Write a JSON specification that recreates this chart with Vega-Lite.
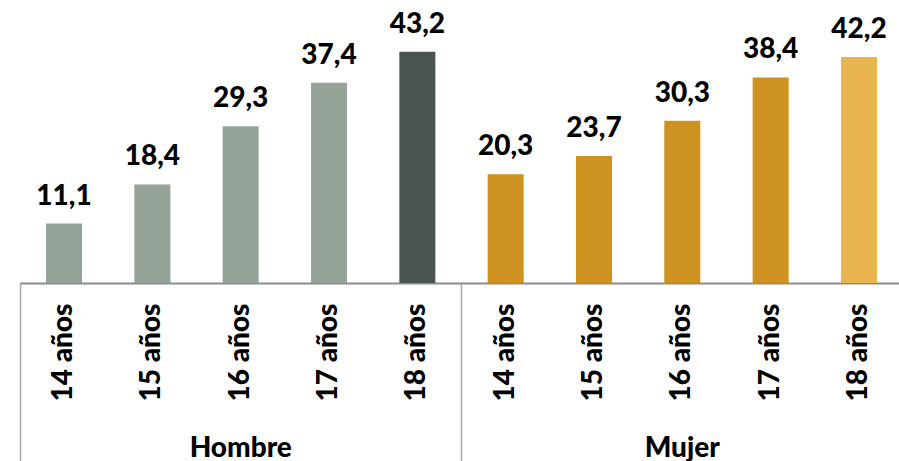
{
  "$schema": "https://vega.github.io/schema/vega-lite/v6.json",
  "width": 879,
  "height": 283,
  "autosize": {"type": "none"},
  "padding": {"left": 20, "top": 0, "right": 0, "bottom": 178},
  "config": {
    "view": {"stroke": null},
    "font": "Lato",
    "locale": {"number": {"decimal": ",", "thousands": ".", "grouping": [3], "currency": ["", " €"]}}
  },
  "data": {
    "values": [
      {"sexo": "Hombre", "edad": "14 años", "id": "Hombre 14 años", "valor": 11.1},
      {"sexo": "Hombre", "edad": "15 años", "id": "Hombre 15 años", "valor": 18.4},
      {"sexo": "Hombre", "edad": "16 años", "id": "Hombre 16 años", "valor": 29.3},
      {"sexo": "Hombre", "edad": "17 años", "id": "Hombre 17 años", "valor": 37.4},
      {"sexo": "Hombre", "edad": "18 años", "id": "Hombre 18 años", "valor": 43.2},
      {"sexo": "Mujer", "edad": "14 años", "id": "Mujer 14 años", "valor": 20.3},
      {"sexo": "Mujer", "edad": "15 años", "id": "Mujer 15 años", "valor": 23.7},
      {"sexo": "Mujer", "edad": "16 años", "id": "Mujer 16 años", "valor": 30.3},
      {"sexo": "Mujer", "edad": "17 años", "id": "Mujer 17 años", "valor": 38.4},
      {"sexo": "Mujer", "edad": "18 años", "id": "Mujer 18 años", "valor": 42.2}
    ]
  },
  "layer": [
    {
      "encoding": {
        "x": {
          "field": "id",
          "type": "nominal",
          "sort": null,
          "scale": {"range": [0, 883], "paddingInner": 0.5923, "paddingOuter": 0.2945},
          "axis": {
            "orient": "bottom",
            "title": null,
            "labelExpr": "slice(datum.label, -7)",
            "labelAngle": -90,
            "labelAlign": "right",
            "labelBaseline": "middle",
            "ticks": false,
            "tickSize": 0,
            "labelPadding": 20,
            "labelFont": "Lato",
            "labelFontWeight": 900,
            "labelFontSize": 28,
            "labelColor": "#000000",
            "labelOverlap": false,
            "labelLimit": 0,
            "domainColor": "#8c8c8c",
            "domainWidth": 2,
            "grid": false
          }
        },
        "y": {
          "field": "valor",
          "type": "quantitative",
          "scale": {"domain": [0, 52.86], "nice": false},
          "axis": null
        }
      },
      "layer": [
        {
          "mark": {"type": "bar"},
          "encoding": {
            "color": {
              "field": "id",
              "type": "nominal",
              "scale": {
                "domain": ["Hombre 14 años", "Hombre 15 años", "Hombre 16 años", "Hombre 17 años", "Hombre 18 años", "Mujer 14 años", "Mujer 15 años", "Mujer 16 años", "Mujer 17 años", "Mujer 18 años"],
                "range": ["#95a398", "#95a398", "#95a398", "#95a398", "#4a534d", "#cd9220", "#cd9220", "#cd9220", "#cd9220", "#e9b54e"]
              },
              "legend": null
            }
          }
        },
        {
          "mark": {"type": "text", "baseline": "alphabetic", "dy": -19, "font": "Lato", "fontWeight": 900, "fontSize": 28, "color": "#000000"},
          "encoding": {
            "text": {"field": "valor", "type": "quantitative", "format": ".1f"}
          }
        }
      ]
    },
    {
      "mark": {"type": "rule", "opacity": 0},
      "encoding": {
        "x": {
          "field": "sexo",
          "type": "nominal",
          "sort": null,
          "scale": {"range": [0, 883], "paddingInner": 0, "paddingOuter": 0},
          "axis": {
            "orient": "bottom",
            "title": null,
            "domain": false,
            "ticks": true,
            "tickSize": 180,
            "tickColor": "#a6a6a6",
            "tickWidth": 1.5,
            "bandPosition": 0,
            "labelPadding": -7,
            "labelAngle": 0,
            "labelAlign": "center",
            "labelBaseline": "alphabetic",
            "labelFont": "Lato",
            "labelFontWeight": 900,
            "labelFontSize": 28,
            "labelColor": "#000000",
            "grid": false
          }
        }
      }
    }
  ],
  "resolve": {"scale": {"x": "independent"}, "axis": {"x": "independent"}}
}
